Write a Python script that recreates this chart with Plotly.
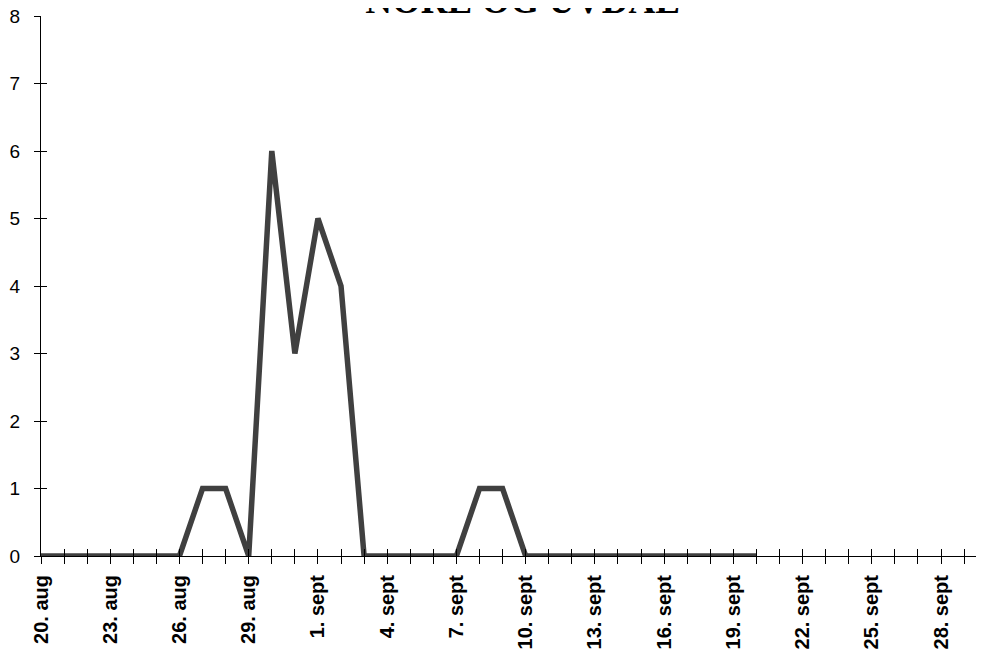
import plotly.graph_objects as go

title_text = "NORE OG UVDAL"
dates = [f"{d}. aug" for d in range(20, 32)] + [f"{d}. sept" for d in range(1, 31)]
values = [0, 0, 0, 0, 0, 0, 0, 1, 1, 0, 6, 3, 5, 4, 0, 0, 0, 0, 0, 1, 1, 0,
          0, 0, 0, 0, 0, 0, 0, 0, 0, 0]
values_full = values + [None] * (len(dates) - len(values))
tick_labels = [d if i % 3 == 0 else "" for i, d in enumerate(dates)]
y_ticks = [0, 1, 2, 3, 4, 5, 6, 7, 8]

xr = [0, 40.86]
fig = go.Figure()
fig.add_trace(go.Scatter(x=dates, y=values_full, mode="lines",
                         line=dict(color="#404040", width=5.5),
                         hoverinfo="skip", showlegend=False))
fig.add_trace(go.Scatter(x=dates, y=values_full, mode="lines", opacity=0,
                         xaxis="x2", yaxis="y2", hoverinfo="skip", showlegend=False))

axfont = dict(family="Liberation Sans, Arial", size=19, color="black")
fig.update_layout(
    width=984, height=653,
    margin=dict(l=33, r=8, t=8, b=105),
    paper_bgcolor="white", plot_bgcolor="white",
    title=dict(text=title_text, x=0.523, xanchor="center", xref="container",
               y=0.992, yanchor="bottom", yref="container",
               font=dict(family="Liberation Serif, Times New Roman", size=37, color="black", weight="bold")),
    xaxis=dict(type="category", categoryorder="array", categoryarray=dates,
               range=xr, tickmode="array", tickvals=dates, ticktext=tick_labels,
               tickangle=-90, ticks="outside", ticklen=7, tickwidth=1, tickcolor="black",
               showline=True, linecolor="black", linewidth=1, showgrid=False, zeroline=False,
               tickfont=dict(family="Liberation Sans, Arial", size=20, color="black", weight="bold"),
               ticklabelstandoff=3, automargin=False),
    yaxis=dict(range=[0, 8], tickvals=y_ticks, ticks="outside", ticklen=6, tickwidth=1,
               tickcolor="black", showline=True, linecolor="black", linewidth=1,
               showgrid=False, zeroline=False, tickfont=axfont, ticklabelstandoff=10,
               automargin=False, ticklabeloverflow="allow"),
    xaxis2=dict(type="category", categoryorder="array", categoryarray=dates, overlaying="x",
                range=xr, tickmode="array", tickvals=dates, showticklabels=False,
                ticks="inside", ticklen=7, tickwidth=1, tickcolor="black",
                showline=False, showgrid=False, zeroline=False, anchor="y2", side="bottom",
                automargin=False),
    yaxis2=dict(range=[0, 8], tickvals=y_ticks, overlaying="y", showticklabels=False,
                ticks="inside", ticklen=6, tickwidth=1, tickcolor="black",
                showline=False, showgrid=False, zeroline=False, anchor="x2", side="left",
                automargin=False),
)
fig.write_html("out.html")
